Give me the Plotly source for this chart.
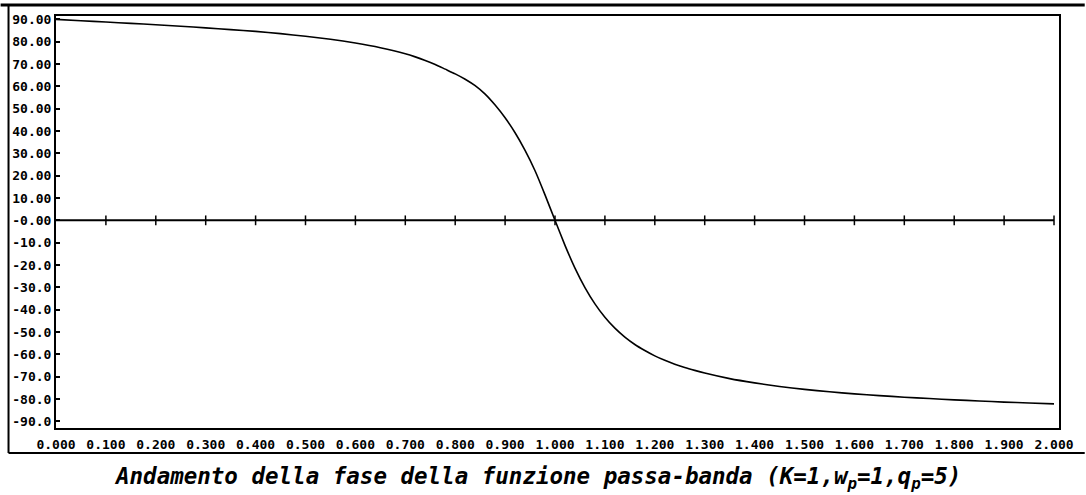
import plotly.graph_objects as go

# Phase response of the band-pass function (K=1, wp=1, qp=5), degrees vs. pulsation
omega = [0.00, 0.05, 0.10, 0.15, 0.20, 0.25, 0.30, 0.35, 0.40, 0.45,
         0.50, 0.55, 0.60, 0.65, 0.70, 0.72, 0.74, 0.76, 0.78, 0.80,
         0.82, 0.84, 0.86, 0.88, 0.90, 0.92, 0.94, 0.96, 0.98, 1.00,
         1.02, 1.04, 1.06, 1.08, 1.10, 1.12, 1.14, 1.16, 1.18, 1.20,
         1.22, 1.24, 1.26, 1.28, 1.30, 1.35, 1.40, 1.45, 1.50, 1.55,
         1.60, 1.65, 1.70, 1.75, 1.80, 1.85, 1.90, 1.95, 2.00]
phase_deg = [90.0, 89.4, 88.8, 88.2, 87.6, 86.9, 86.2, 85.4, 84.6, 83.6,
             82.4, 81.1, 79.4, 77.3, 74.6, 73.2, 71.6, 69.8, 67.7, 65.6,
             63.2, 60.3, 56.5, 51.6, 45.9, 39.2, 31.3, 22.2, 11.4, 0.0,
             -11.2, -21.4, -30.1, -37.4, -43.4, -48.3, -52.3, -55.6, -58.3, -60.7,
             -62.7, -64.4, -65.9, -67.2, -68.4, -70.9, -72.8, -74.4, -75.7, -76.8,
             -77.7, -78.5, -79.2, -79.8, -80.4, -80.9, -81.4, -81.8, -82.2]

x_ticks = [0.0, 0.1, 0.2, 0.3, 0.4, 0.5, 0.6, 0.7, 0.8, 0.9, 1.0,
           1.1, 1.2, 1.3, 1.4, 1.5, 1.6, 1.7, 1.8, 1.9, 2.0]
x_tick_text = ["0.000", "0.100", "0.200", "0.300", "0.400", "0.500", "0.600",
               "0.700", "0.800", "0.900", "1.000", "1.100", "1.200", "1.300",
               "1.400", "1.500", "1.600", "1.700", "1.800", "1.900", "2.000"]
y_ticks = [90, 80, 70, 60, 50, 40, 30, 20, 10, 0,
           -10, -20, -30, -40, -50, -60, -70, -80, -90]
y_tick_text = ["90.00", "80.00", "70.00", "60.00", "50.00", "40.00", "30.00",
               "20.00", "10.00", "-0.00", "-10.0", "-20.0", "-30.0", "-40.0",
               "-50.0", "-60.0", "-70.0", "-80.0", "-90.0"]

title_text = ("Andamento della fase della funzione passa-banda "
              "(K=1,w<sub>p</sub>=1,q<sub>p</sub>=5)")

W, H = 1086, 495
L, R, T, B = 56, 1070, 16, 428  # plot area in pixels
mono = "DejaVu Sans Mono"

fig = go.Figure()

# zero line
fig.add_trace(go.Scatter(
    x=[x_ticks[0], x_ticks[-1]], y=[0, 0], mode="lines",
    line=dict(color="black", width=2), hoverinfo="skip", showlegend=False))

# tick marks sitting on the zero line
fig.add_trace(go.Scatter(
    x=x_ticks[1:], y=[0] * (len(x_ticks) - 1), mode="markers",
    marker=dict(symbol="line-ns", size=7, line=dict(color="black", width=1.5)),
    hoverinfo="skip", showlegend=False))

# phase curve
fig.add_trace(go.Scatter(
    x=omega, y=phase_deg, mode="lines",
    line=dict(color="black", width=1.6, shape="spline", smoothing=0.5),
    showlegend=False))

def px_x(p):
    return (p - L) / (R - L)

def px_y(p):
    return (B - p) / (B - T)

# outer frame around plot and labels
fig.add_shape(type="line", xref="paper", yref="paper",
              x0=px_x(0), x1=px_x(W + 10), y0=px_y(5), y1=px_y(5),
              line=dict(color="black", width=3))
fig.add_shape(type="line", xref="paper", yref="paper",
              x0=px_x(8), x1=px_x(W + 10), y0=px_y(453), y1=px_y(453),
              line=dict(color="black", width=2))
fig.add_shape(type="line", xref="paper", yref="paper",
              x0=px_x(8), x1=px_x(8), y0=px_y(5), y1=px_y(453),
              line=dict(color="black", width=2))

fig.add_annotation(
    text=title_text, xref="paper", yref="paper",
    x=px_x(W / 2), y=px_y(478), xanchor="center", yanchor="middle",
    showarrow=False,
    font=dict(family=mono, size=22.5, color="black", weight="bold", style="italic"))

fig.update_xaxes(
    range=[0, 2.01], tickvals=x_ticks, ticktext=x_tick_text, ticks="",
    showgrid=False, zeroline=False, showline=True, linecolor="black",
    linewidth=2, mirror=True, ticklabelstandoff=3,
    tickfont=dict(family=mono, size=13, color="black", weight="bold"))
fig.update_yaxes(
    range=[-93, 91.5], tickvals=y_ticks, ticktext=y_tick_text,
    ticks="inside", ticklen=4, tickwidth=2, tickcolor="black",
    showgrid=False, zeroline=False, showline=True, linecolor="black",
    linewidth=2, mirror=True,
    tickfont=dict(family=mono, size=13, color="black", weight="bold"))

fig.update_layout(
    width=W, height=H, autosize=False,
    margin=dict(l=L, r=W - R, t=T, b=H - B),
    paper_bgcolor="white", plot_bgcolor="white",
    showlegend=False)

fig.write_html("out.html")
